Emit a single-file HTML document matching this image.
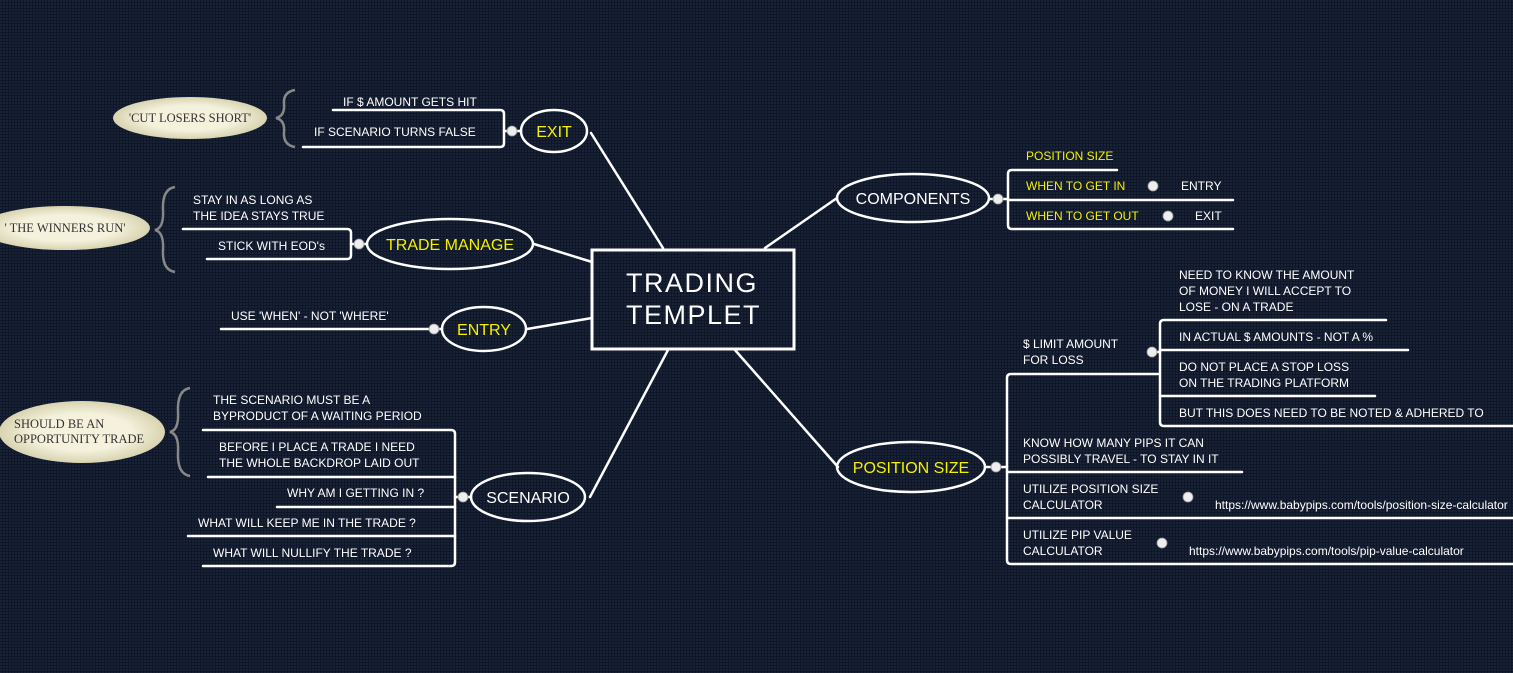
<!DOCTYPE html>
<html><head><meta charset="utf-8"><style>
html,body{margin:0;padding:0;background:#131b2e;}
svg{display:block}
text{font-family:"Liberation Sans",sans-serif;font-size:12px;fill:#fff}
text.big{font-size:16px}
.y{fill:#f4f000}
.s{font-family:"Liberation Serif",serif;fill:#333;font-size:12.5px}
</style></head><body>
<svg width="1513" height="673" viewBox="0 0 1513 673" xmlns="http://www.w3.org/2000/svg">
<defs><pattern id="g" width="3" height="3" patternUnits="userSpaceOnUse"><rect width="3" height="3" fill="#0f1628"/><rect width="2" height="2" fill="#182338"/></pattern>
<radialGradient id="cr"><stop offset="0.6" stop-color="#f4f1dc"/><stop offset="1" stop-color="#d8d3b0"/></radialGradient></defs>
<rect width="1513" height="673" fill="url(#g)"/>
<g stroke="#fff" stroke-width="2.5" fill="none" stroke-linecap="round">
<line x1="663" y1="248" x2="591" y2="133"/>
<line x1="592" y1="262" x2="534" y2="244"/>
<line x1="592" y1="318" x2="527" y2="329"/>
<line x1="668" y1="350" x2="590" y2="497"/>
<line x1="765" y1="248" x2="837" y2="198"/>
<line x1="735" y1="350" x2="838" y2="467"/>
<rect x="592" y="250" width="202" height="99" stroke-width="3"/>
<ellipse cx="554" cy="131" rx="33" ry="21"/>
<ellipse cx="450" cy="244" rx="83" ry="25"/>
<ellipse cx="484" cy="329" rx="42" ry="22"/>
<ellipse cx="528" cy="497" rx="57" ry="24"/>
<ellipse cx="913" cy="198" rx="76" ry="24"/>
<ellipse cx="911" cy="467" rx="74" ry="25"/>
<path d="M333 110 H500 Q504 110 504 114 V143 Q504 147 500 147 H303"/>
<line x1="504" y1="131" x2="521" y2="131"/>
<path d="M183 229 H347 Q351 229 351 233 V255 Q351 259 347 259 H207"/>
<line x1="351" y1="244" x2="367" y2="244"/>
<line x1="221" y1="329" x2="442" y2="329"/>
<path d="M203 430 H451 Q455 430 455 434 V562 Q455 566 451 566 H203"/>
<line x1="208" y1="477" x2="455" y2="477"/>
<line x1="277" y1="507" x2="455" y2="507"/>
<line x1="188" y1="536" x2="455" y2="536"/>
<line x1="455" y1="497" x2="471" y2="497"/>
<path d="M1117 170 H1012 Q1008 170 1008 174 V225 Q1008 229 1012 229 H1233"/>
<line x1="1008" y1="200" x2="1233" y2="200"/>
<line x1="989" y1="199" x2="1008" y2="199"/>
<path d="M1158 374 H1011 Q1007 374 1007 378 V560 Q1007 564 1011 564 H1513"/>
<line x1="1007" y1="472" x2="1242" y2="472"/>
<line x1="1007" y1="518" x2="1513" y2="518"/>
<line x1="985" y1="467" x2="1007" y2="467"/>
<path d="M1386 320 H1164 Q1160 320 1160 324 V422 Q1160 426 1164 426 H1513"/>
<line x1="1160" y1="350" x2="1408" y2="350"/>
<line x1="1160" y1="396" x2="1375" y2="396"/>
<line x1="1152" y1="352" x2="1160" y2="352"/>
</g>
<g fill="#eee" stroke="#999" stroke-width="0.8">
<circle cx="512" cy="131" r="5"/><circle cx="359" cy="244" r="5"/><circle cx="434" cy="329" r="5"/>
<circle cx="463" cy="497" r="5"/><circle cx="998" cy="199" r="5"/><circle cx="996" cy="467" r="5"/>
<circle cx="1153" cy="186" r="5"/><circle cx="1168" cy="216" r="5"/><circle cx="1152" cy="352" r="5"/>
<circle cx="1188" cy="497" r="5"/><circle cx="1162" cy="543" r="5"/>
</g>
<g stroke="#888" stroke-width="2.5" fill="none">
<path d="M295 90 Q283 92 284 104 Q285 116 276 118 Q285 120 284 132 Q283 145 295 147"/>
<path d="M175 187 Q162 189 163 210 Q164 228 155 230 Q164 232 163 250 Q162 270 175 272"/>
<path d="M190 388 Q177 390 178 412 Q179 430 170 432 Q179 434 178 452 Q177 474 190 476"/>
</g>
<ellipse cx="190" cy="118" rx="77" ry="21" fill="url(#cr)"/>
<ellipse cx="65" cy="228" rx="85" ry="22" fill="url(#cr)"/>
<ellipse cx="82" cy="432" rx="83" ry="31" fill="url(#cr)"/>
<text class="s" x="190" y="122" text-anchor="middle">'CUT LOSERS SHORT'</text>
<text class="s" x="65" y="232" text-anchor="middle">' THE WINNERS RUN'</text>
<text class="s" x="14" y="428">SHOULD BE AN</text>
<text class="s" x="14" y="443">OPPORTUNITY TRADE</text>
<text x="626" y="292" style="font-size:27px;letter-spacing:1.5px">TRADING</text>
<text x="626" y="324" style="font-size:27px;letter-spacing:1.5px">TEMPLET</text>
<text class="big y" x="554" y="137" text-anchor="middle">EXIT</text>
<text class="big y" x="450" y="250" text-anchor="middle">TRADE MANAGE</text>
<text class="big y" x="484" y="335" text-anchor="middle">ENTRY</text>
<text class="big" x="528" y="503" text-anchor="middle">SCENARIO</text>
<text class="big" x="913" y="204" text-anchor="middle">COMPONENTS</text>
<text class="big y" x="911" y="473" text-anchor="middle">POSITION SIZE</text>
<text x="343" y="106">IF $ AMOUNT GETS HIT</text>
<text x="314" y="136">IF SCENARIO TURNS FALSE</text>
<text x="193" y="204">STAY IN AS LONG AS</text>
<text x="193" y="220">THE IDEA STAYS TRUE</text>
<text x="218" y="250">STICK WITH EOD's</text>
<text x="231" y="320">USE 'WHEN' - NOT 'WHERE'</text>
<text x="213" y="404">THE SCENARIO MUST BE A</text>
<text x="213" y="420">BYPRODUCT OF A WAITING PERIOD</text>
<text x="219" y="451">BEFORE I PLACE A TRADE I NEED</text>
<text x="219" y="467">THE WHOLE BACKDROP LAID OUT</text>
<text x="287" y="497">WHY AM I GETTING IN ?</text>
<text x="198" y="527">WHAT WILL KEEP ME IN THE TRADE ?</text>
<text x="213" y="557">WHAT WILL NULLIFY THE TRADE ?</text>
<text class="y" x="1026" y="160">POSITION SIZE</text>
<text class="y" x="1026" y="190">WHEN TO GET IN</text>
<text x="1181" y="190">ENTRY</text>
<text class="y" x="1026" y="220">WHEN TO GET OUT</text>
<text x="1195" y="220">EXIT</text>
<text x="1023" y="348">$ LIMIT AMOUNT</text>
<text x="1023" y="364">FOR LOSS</text>
<text x="1179" y="279">NEED TO KNOW THE AMOUNT</text>
<text x="1179" y="295">OF MONEY I WILL ACCEPT TO</text>
<text x="1179" y="311">LOSE - ON A TRADE</text>
<text x="1179" y="341">IN ACTUAL $ AMOUNTS - NOT A %</text>
<text x="1179" y="371">DO NOT PLACE A STOP LOSS</text>
<text x="1179" y="387">ON THE TRADING PLATFORM</text>
<text x="1179" y="417">BUT THIS DOES NEED TO BE NOTED &amp; ADHERED TO</text>
<text x="1023" y="447">KNOW HOW MANY PIPS IT CAN</text>
<text x="1023" y="463">POSSIBLY TRAVEL - TO STAY IN IT</text>
<text x="1023" y="493">UTILIZE POSITION SIZE</text>
<text x="1023" y="509">CALCULATOR</text>
<text x="1215" y="509">https://www.babypips.com/tools/position-size-calculator</text>
<text x="1023" y="539">UTILIZE PIP VALUE</text>
<text x="1023" y="555">CALCULATOR</text>
<text x="1189" y="555">https://www.babypips.com/tools/pip-value-calculator</text>
</svg>
</body></html>
